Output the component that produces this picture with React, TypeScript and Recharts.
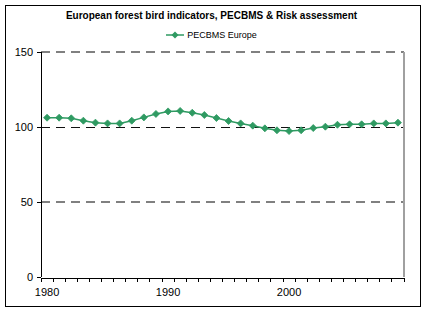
import React from 'react';
import { LineChart, Line, XAxis, YAxis, ReferenceLine } from 'recharts';

const years = [
  1980, 1981, 1982, 1983, 1984, 1985, 1986, 1987, 1988, 1989,
  1990, 1991, 1992, 1993, 1994, 1995, 1996, 1997, 1998, 1999,
  2000, 2001, 2002, 2003, 2004, 2005, 2006, 2007, 2008, 2009,
];
const pecbmsEurope = [
  106.2, 106.2, 105.8, 104.2, 102.9, 102.4, 102.4, 104.2, 106.4, 108.7,
  110.4, 110.7, 109.5, 108.0, 106.0, 104.0, 102.4, 100.9, 99.1, 97.8,
  97.3, 97.8, 99.3, 100.2, 101.5, 101.8, 101.8, 102.4, 102.4, 102.9,
];
const yTicks = [0, 50, 100, 150];
const xLabelTicks = [1980, 1990, 2000];
const gridLines = [
  { y: 50, color: '#808080', width: 2, crisp: false },
  { y: 100, color: '#111111', width: 1, crisp: true },
  { y: 150, color: '#808080', width: 2, crisp: false },
];

const data = years.map((year, i) => ({ year, value: pecbmsEurope[i] }));
const tickMarks = years.map((y) => y - 0.5).concat(years[years.length - 1] + 0.5);
const xDomain = [years[0] - 0.5, years[years.length - 1] + 0.5];

const GREEN = '#2f9a62';
const FONT = '"Liberation Sans", Arial, sans-serif';

const Diamond = (props: any) => {
  const { cx, cy, index } = props;
  if (cx == null || cy == null) return null;
  const r = 3.5;
  return (
    <polygon
      key={index}
      points={`${cx},${cy - r} ${cx + r},${cy} ${cx},${cy + r} ${cx - r},${cy}`}
      fill={GREEN}
      stroke={GREEN}
      strokeWidth={0.8}
    />
  );
};

export default function App() {
  return (
    <div style={{ position: 'absolute', left: 0, top: 0, width: 423, height: 309, background: '#fff' }}>
      <div
        style={{
          position: 'absolute', left: 5, top: 5, width: 416, height: 302,
          border: '1px solid #000', boxSizing: 'border-box',
        }}
      />
      <div
        style={{
          position: 'absolute', left: 0, top: 10, width: 423, textAlign: 'center',
          fontFamily: FONT, fontSize: 10, fontWeight: 'bold', color: '#000',
        }}
      >
        European forest bird indicators, PECBMS &amp; Risk assessment
      </div>
      <div
        style={{
          position: 'absolute', left: 0, top: 30, width: 423, display: 'flex',
          alignItems: 'center', justifyContent: 'center', fontFamily: FONT, fontSize: 9, color: '#000',
        }}
      >
        <svg width={18} height={8} style={{ marginRight: 3 }}>
          <line x1={0} y1={4} x2={18} y2={4} stroke={GREEN} strokeWidth={1.5} />
          <polygon points="9,0.5 12.5,4 9,7.5 5.5,4" fill={GREEN} />
        </svg>
        <span>PECBMS Europe</span>
      </div>
      <div style={{ position: 'absolute', left: 0, top: 0 }}>
        <LineChart width={423} height={309} data={data} margin={{ top: 52, right: 18, bottom: 30, left: 40 }}>
          <XAxis
            xAxisId="lab"
            dataKey="year"
            type="number"
            domain={xDomain}
            ticks={xLabelTicks}
            height={1}
            tickSize={0}
            tickMargin={11}
            axisLine={false}
            tick={{ fontFamily: FONT, fontSize: 11, fill: '#000' }}
          />
          <XAxis
            xAxisId="marks"
            dataKey="year"
            type="number"
            domain={xDomain}
            ticks={tickMarks}
            interval={0}
            height={1}
            tickSize={4}
            tickFormatter={() => ''}
            axisLine={{ stroke: '#000', strokeWidth: 1, shapeRendering: 'crispEdges' }}
            tickLine={{ stroke: '#000', strokeWidth: 1, shapeRendering: 'crispEdges' }}
          />
          <YAxis
            domain={[0, 150]}
            ticks={yTicks}
            width={1}
            tickSize={4}
            tickMargin={4}
            axisLine={{ stroke: '#000', strokeWidth: 1, shapeRendering: 'crispEdges' }}
            tickLine={{ stroke: '#000', shapeRendering: 'crispEdges' }}
            tick={{ fontFamily: FONT, fontSize: 11, fill: '#000' }}
          />
          <YAxis
            yAxisId="right"
            orientation="right"
            domain={[0, 150]}
            width={1}
            tick={false}
            tickLine={false}
            axisLine={{ stroke: '#a0a0a0', strokeWidth: 2 }}
          />
          {gridLines.map((g) => (
            <ReferenceLine
              key={g.y}
              y={g.y}
              xAxisId="lab"
              stroke={g.color}
              strokeDasharray="9 6"
              strokeWidth={g.width}
              shapeRendering={g.crisp ? 'crispEdges' : undefined}
            />
          ))}
          <Line
            xAxisId="lab"
            dataKey="value"
            stroke={GREEN}
            strokeWidth={1.5}
            dot={Diamond}
            activeDot={false}
            isAnimationActive={false}
          />
        </LineChart>
      </div>
    </div>
  );
}
